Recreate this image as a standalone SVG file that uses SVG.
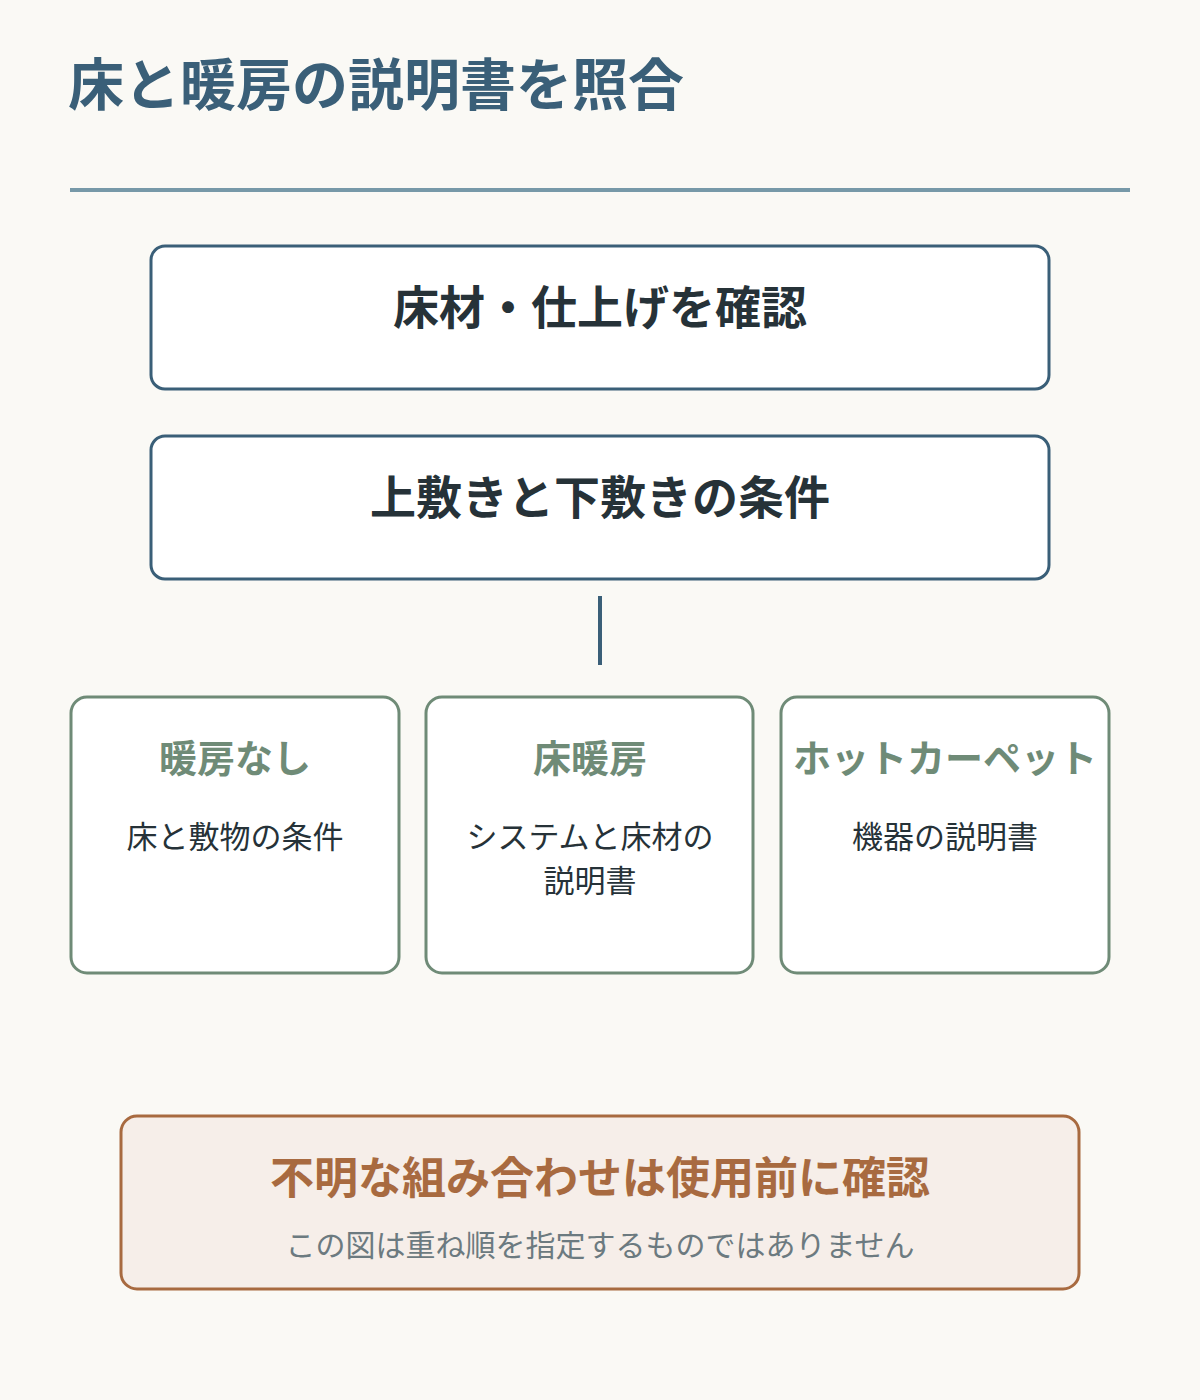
<svg xmlns="http://www.w3.org/2000/svg" width="1200" height="1400" viewBox="0 0 1200 1400">
<style>
text{font-family:"Noto Sans CJK JP","Noto Sans",sans-serif;text-anchor:middle}
.title{font-size:56px;font-weight:700;fill:#3a5f78;text-anchor:start}
.main{fill:#ffffff;stroke:#3a5f78;stroke-width:3}
.mainT{font-size:46px;font-weight:700;fill:#263238}
.opt{fill:#ffffff;stroke:#6f8b77;stroke-width:3}
.optT{font-size:38px;font-weight:700;fill:#6f8b77}
.optS{font-size:31px;font-weight:400;fill:#263238}
.note{fill:#f6eee9;stroke:#a86a40;stroke-width:3}
.noteT{font-size:44px;font-weight:700;fill:#a86a40}
.noteS{font-size:30px;font-weight:400;fill:#6c7a80}
.conn{stroke:#3a5f78;stroke-width:4;fill:none}
</style>
<rect width="1200" height="1400" fill="#faf9f5"/>
<g id="header">
<text class="title" x="68" y="105">床と暖房の説明書を照合</text>
<line x1="70" y1="190" x2="1130" y2="190" stroke="#7799a8" stroke-width="4"/>
</g>
<g id="connectors">
<line class="conn" x1="600" y1="596" x2="600" y2="665"/>
</g>
<g id="node-floor">
<rect class="main" x="151" y="246" width="898" height="143" rx="14"/>
<text class="mainT" x="600" y="324">床材・仕上げを確認</text>
</g>
<g id="node-rug">
<rect class="main" x="151" y="436" width="898" height="143" rx="14"/>
<text class="mainT" x="600" y="514">上敷きと下敷きの条件</text>
</g>
<g id="node-none">
<rect class="opt" x="71" y="697" width="328" height="276" rx="16"/>
<text class="optT" x="235" y="772">暖房なし</text>
<text class="optS" x="235" y="848">床と敷物の条件</text>
</g>
<g id="node-floorheat">
<rect class="opt" x="426" y="697" width="327" height="276" rx="16"/>
<text class="optT" x="590" y="772">床暖房</text>
<text class="optS" x="590" y="848">システムと床材の</text>
<text class="optS" x="590" y="892">説明書</text>
</g>
<g id="node-carpet">
<rect class="opt" x="781" y="697" width="328" height="276" rx="16"/>
<text class="optT" x="945" y="772">ホットカーペット</text>
<text class="optS" x="945" y="848">機器の説明書</text>
</g>
<g id="node-note">
<rect class="note" x="121" y="1116" width="958" height="173" rx="16"/>
<text class="noteT" x="600" y="1194">不明な組み合わせは使用前に確認</text>
<text class="noteS" x="600" y="1256">この図は重ね順を指定するものではありません</text>
</g>
</svg>
